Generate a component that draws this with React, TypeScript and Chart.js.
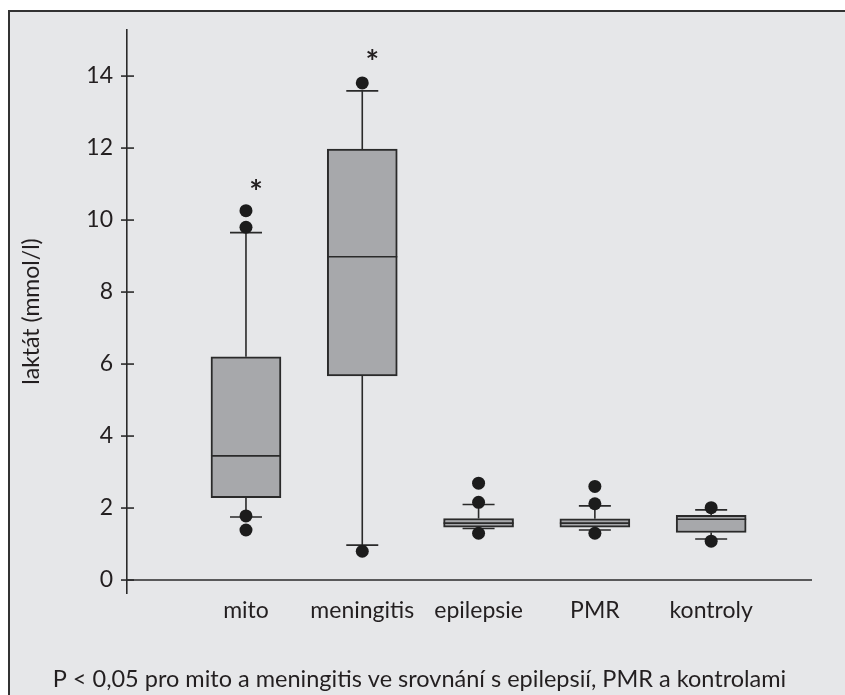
import React, { useEffect, useRef } from "react";
import { Chart, registerables } from "chart.js";

Chart.register(...registerables);

const categories = ["mito", "meningitis", "epilepsie", "PMR", "kontroly"];
const q1 = [2.29, 5.67, 1.47, 1.47, 1.32];
const q3 = [6.2, 11.97, 1.71, 1.7, 1.8];
const medians = [3.45, 8.98, 1.58, 1.58, 1.69];
const whiskerLow = [1.75, 0.97, 1.43, 1.39, 1.14];
const whiskerHigh = [9.65, 13.59, 2.1, 2.06, 1.95];
const outliers = [
  [10.26, 9.8, 1.78, 1.39],
  [13.81, 0.8],
  [2.69, 2.16, 1.3],
  [2.6, 2.12, 1.3],
  [2.01, 1.08],
];
const starValues = [10.97, 14.6, null, null, null];
const yTicks = [0, 2, 4, 6, 8, 10, 12, 14];
const yTitle = "laktát (mmol/l)";
const footnote = "P < 0,05 pro mito a meningitis ve srovnání s epilepsií, PMR a kontrolami";

const FONT = "Lato";
const INK = "#231f20";
const LINE = "#2a2a2a";

const extras = {
  id: "boxExtras",
  beforeDatasetsDraw(chart: any) {
    const { ctx, chartArea } = chart;
    const xs = chart.scales.x;
    const ys = chart.scales.y;
    ctx.save();
    ctx.strokeStyle = LINE;
    ctx.lineWidth = 1.6;
    const y0 = ys.getPixelForValue(0);
    ctx.beginPath();
    ctx.moveTo(chartArea.left, y0);
    ctx.lineTo(chartArea.right, y0);
    ctx.stroke();
    yTicks.forEach((v) => {
      const py = ys.getPixelForValue(v);
      ctx.beginPath();
      ctx.moveTo(chartArea.left - 6, py);
      ctx.lineTo(chartArea.left + 7, py);
      ctx.stroke();
    });
    categories.forEach((_, i) => {
      const cx = xs.getPixelForValue(i + 1);
      const hi = ys.getPixelForValue(whiskerHigh[i]);
      const lo = ys.getPixelForValue(whiskerLow[i]);
      const top = ys.getPixelForValue(q3[i]);
      const bot = ys.getPixelForValue(q1[i]);
      ctx.beginPath();
      ctx.moveTo(cx, hi);
      ctx.lineTo(cx, top);
      ctx.moveTo(cx, bot);
      ctx.lineTo(cx, lo);
      ctx.moveTo(cx - 16, hi);
      ctx.lineTo(cx + 16, hi);
      ctx.moveTo(cx - 16, lo);
      ctx.lineTo(cx + 16, lo);
      ctx.stroke();
    });
    ctx.restore();
  },
  afterDatasetDraw(chart: any, args: any) {
    if (args.index !== 0) return;
    const { ctx } = chart;
    const xs = chart.scales.x;
    const ys = chart.scales.y;
    ctx.save();
    ctx.strokeStyle = LINE;
    ctx.lineWidth = 1.6;
    categories.forEach((_, i) => {
      const cx = xs.getPixelForValue(i + 1);
      const py = ys.getPixelForValue(medians[i]);
      ctx.beginPath();
      ctx.moveTo(cx - 35, py);
      ctx.lineTo(cx + 35, py);
      ctx.stroke();
    });
    ctx.restore();
  },
  afterDatasetsDraw(chart: any) {
    const { ctx, width } = chart;
    const xs = chart.scales.x;
    const ys = chart.scales.y;
    ctx.save();
    ctx.fillStyle = INK;
    ctx.textAlign = "center";
    ctx.textBaseline = "middle";
    ctx.font = `bold 32px ${FONT}`;
    starValues.forEach((v, i) => {
      if (v == null) return;
      const cx = xs.getPixelForValue(i + 1);
      ctx.fillText("*", cx + 10, ys.getPixelForValue(v) + 9);
    });
    ctx.font = `23.5px ${FONT}`;
    ctx.fillText(footnote, width / 2 - 8, chart.height - 16);
    ctx.restore();
  },
};

export default function App() {
  const ref = useRef<HTMLCanvasElement>(null);
  useEffect(() => {
    if (!ref.current) return;
    const boxData = categories.map((_, i) => ({ x: i + 1, y: [q1[i], q3[i]] }));
    const outlierData: { x: number; y: number }[] = [];
    outliers.forEach((arr, i) => arr.forEach((v) => outlierData.push({ x: i + 1, y: v })));
    const chart = new Chart(ref.current, {
      type: "bar",
      data: {
        datasets: [
          {
            type: "bar",
            data: boxData as any,
            backgroundColor: "#a7a8ab",
            borderColor: LINE,
            borderWidth: 2,
            borderSkipped: false,
            barThickness: 70,
            order: 2,
          } as any,
          {
            type: "scatter",
            data: outlierData,
            backgroundColor: "#1c1c1c",
            borderWidth: 0,
            pointRadius: 6.5,
            order: 1,
          } as any,
        ],
      },
      plugins: [extras],
      options: {
        animation: false,
        responsive: false,
        layout: { padding: { top: 18, right: 33, left: 0, bottom: 0 } },
        plugins: { legend: { display: false }, tooltip: { enabled: false } },
        scales: {
          x: {
            type: "linear",
            offset: false,
            min: -0.023,
            max: 5.867,
            grid: { display: false, drawTicks: false, offset: false },
            border: { display: false },
            afterBuildTicks: (s: any) => {
              s.ticks = categories.map((_, i) => ({ value: i + 1 }));
            },
            afterFit: (s: any) => {
              s.height = 102;
              s.paddingLeft = 0;
              s.paddingRight = 0;
            },
            ticks: {
              padding: 4,
              color: INK,
              font: { family: FONT, size: 23 },
              callback: (v: any) => categories[Number(v) - 1] ?? "",
            },
          },
          y: {
            type: "linear",
            min: -0.36,
            max: 15.28,
            grid: { display: true, drawOnChartArea: false, drawTicks: false, color: "rgba(0,0,0,0)" },
            border: { display: true, color: LINE, width: 1.6 },
            afterBuildTicks: (s: any) => {
              s.ticks = yTicks.map((v) => ({ value: v }));
            },
            afterFit: (s: any) => {
              s.width = 117;
              s.paddingTop = 0;
              s.paddingBottom = 0;
            },
            ticks: {
              padding: 14,
              color: INK,
              font: { family: FONT, size: 23 },
            },
            title: {
              display: true,
              text: yTitle,
              color: INK,
              font: { family: FONT, size: 23 },
              padding: { top: 8, bottom: 0 },
            },
          },
        },
      } as any,
    });
    return () => chart.destroy();
  }, []);
  return (
    <div
      style={{
        position: "fixed",
        left: 8,
        top: 10,
        right: 0,
        bottom: 0,
        borderTop: "2px solid #333",
        borderLeft: "2px solid #333",
        background: "#e6e7e9",
      }}
    >
      <canvas ref={ref} width={835} height={683} style={{ display: "block" }} />
    </div>
  );
}
